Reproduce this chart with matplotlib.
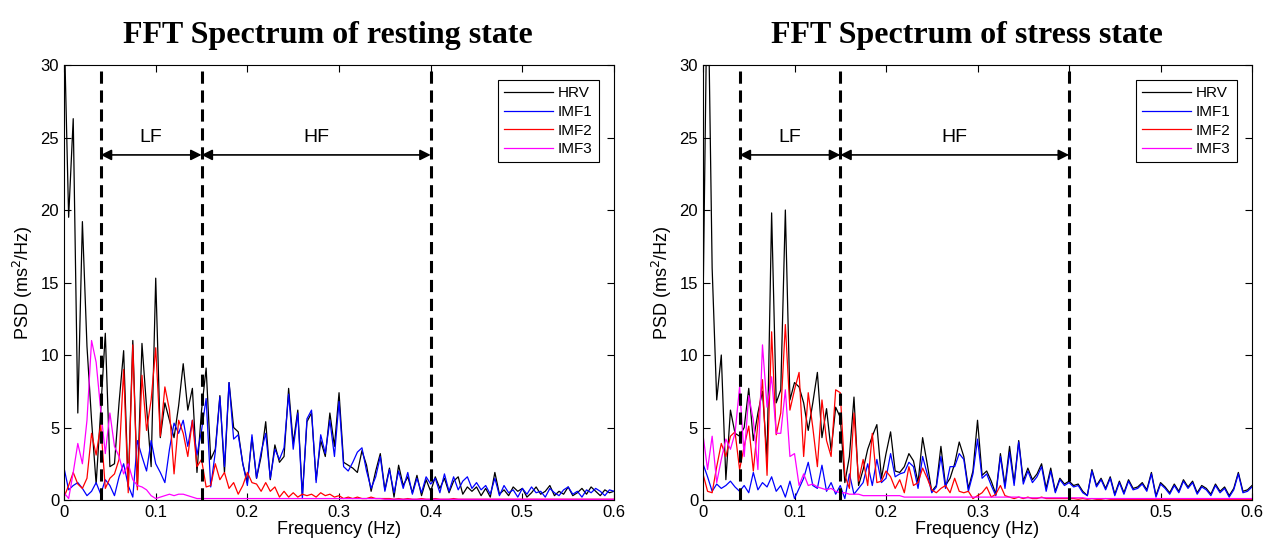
import numpy as np
import matplotlib
matplotlib.use('Agg')
import matplotlib.pyplot as plt

# frequency grid (Hz), 0.005 Hz spacing
freq = np.round(np.arange(121) * 0.005, 3)

# resting state PSD (ms^2/Hz)
rest_hrv = [33.0, 19.5, 26.3, 6.0, 19.2, 10.6, 5.5, 1.1, 6.2, 11.5,
            2.3, 2.5, 6.7, 10.3, 0.9, 11.0, 0.9, 10.8, 6.4, 2.3,
            15.3, 4.3, 6.7, 5.5, 4.3, 6.5, 9.4, 6.2, 7.7, 1.9,
            6.2, 9.1, 2.8, 3.5, 7.2, 1.9, 8.1, 5.0, 4.7, 2.5,
            1.2, 4.3, 1.5, 3.0, 5.4, 1.4, 3.8, 2.6, 3.0, 7.7,
            3.9, 6.2, 0.3, 5.4, 6.0, 1.4, 4.1, 3.0, 6.0, 3.7,
            7.4, 2.6, 2.4, 2.2, 1.9, 3.4, 2.4, 0.6, 2.0, 3.2,
            0.7, 2.2, 0.2, 2.4, 1.0, 1.6, 0.5, 1.7, 0.3, 1.4,
            0.6, 1.6, 0.8, 1.5, 0.5, 1.3, 1.6, 0.4, 0.9, 0.6,
            0.9, 0.3, 0.8, 0.2, 1.9, 0.4, 0.7, 0.3, 0.9, 0.6,
            0.8, 0.2, 0.5, 0.9, 0.4, 0.6, 1.0, 0.3, 0.6, 0.4,
            0.9, 0.3, 0.5, 0.8, 0.4, 0.9, 0.6, 0.3, 0.7, 0.5,
            0.6]
rest_imf1 = [2.2, 0.7, 1.0, 1.2, 0.8, 0.3, 0.6, 1.2, 0.4, 1.4,
             1.0, 0.3, 1.6, 2.5, 1.0, 0.2, 4.1, 3.0, 2.0, 4.1,
             2.5, 1.9, 1.2, 3.5, 5.3, 4.6, 5.5, 3.7, 5.5, 3.1,
             4.8, 7.0, 0.9, 3.3, 7.1, 2.3, 8.1, 4.2, 4.5, 2.5,
             1.0, 4.5, 1.5, 3.3, 4.6, 1.5, 3.5, 2.8, 3.6, 7.3,
             3.5, 6.0, 0.1, 5.6, 6.2, 1.2, 4.5, 3.2, 5.5, 3.0,
             6.8, 2.3, 2.0, 2.6, 3.3, 3.6, 2.0, 0.8, 1.6, 3.0,
             0.6, 2.1, 0.5, 2.0, 0.8, 1.9, 0.4, 1.5, 0.5, 1.6,
             1.1, 1.5, 0.5, 1.8, 0.6, 1.6, 0.7, 1.3, 1.6, 0.8,
             1.2, 0.7, 1.0, 0.4, 1.5, 0.3, 1.0, 0.5, 0.7, 0.2,
             0.8, 0.4, 0.9, 0.5, 0.6, 0.2, 0.8, 0.5, 0.3, 0.7,
             0.9, 0.4, 0.6, 0.2, 0.7, 0.5, 0.8, 0.6, 0.3, 0.7,
             0.6]
rest_imf2 = [0.2, 1.0, 1.9, 1.1, 0.8, 1.5, 4.6, 3.1, 5.2, 0.8,
             1.5, 1.8, 2.8, 9.0, 0.5, 10.7, 0.7, 8.6, 4.8, 6.9,
             10.5, 4.4, 7.8, 6.2, 1.8, 5.5, 4.6, 3.0, 5.5, 2.3,
             2.8, 0.9, 1.0, 2.5, 1.4, 1.9, 0.8, 1.2, 0.4, 1.0,
             1.9, 1.2, 1.1, 0.6, 1.2, 0.6, 0.9, 0.2, 0.6, 0.2,
             0.5, 0.2, 0.4, 0.3, 0.4, 0.2, 0.5, 0.3, 0.4, 0.2,
             0.3, 0.1, 0.2, 0.1, 0.2, 0.1, 0.1, 0.2, 0.1, 0.1,
             0.1, 0.1, 0.05, 0.1, 0.05, 0.1, 0.05, 0.05, 0.1, 0.05,
             0.05, 0.1, 0.05, 0.05, 0.05, 0.1, 0.05, 0.05, 0.05, 0.05,
             0.05, 0.05, 0.05, 0.05, 0.05, 0.05, 0.05, 0.05, 0.05, 0.05,
             0.05, 0.05, 0.05, 0.05, 0.05, 0.05, 0.05, 0.05, 0.05, 0.05,
             0.05, 0.05, 0.05, 0.05, 0.05, 0.05, 0.05, 0.05, 0.05, 0.05,
             0.05]
rest_imf3 = [0.5, 0.1, 1.9, 3.9, 2.5, 5.5, 11.0, 9.5, 6.2, 3.2,
             6.0, 3.7, 3.0, 1.8, 2.5, 1.4, 1.0, 0.9, 0.7, 0.3,
             0.1, 0.2, 0.3, 0.4, 0.3, 0.4, 0.4, 0.3, 0.2, 0.1,
             0.1, 0.1, 0.1, 0.1, 0.1, 0.1, 0.1, 0.1, 0.1, 0.1,
             0.1, 0.1, 0.1, 0.1, 0.1, 0.1, 0.1, 0.1, 0.1, 0.1,
             0.1, 0.1, 0.1, 0.1, 0.1, 0.1, 0.1, 0.1, 0.1, 0.1,
             0.1, 0.1, 0.1, 0.1, 0.1, 0.1, 0.1, 0.1, 0.1, 0.1,
             0.05, 0.05, 0.05, 0.05, 0.05, 0.05, 0.05, 0.05, 0.05, 0.05,
             0.05, 0.05, 0.05, 0.05, 0.05, 0.05, 0.05, 0.05, 0.05, 0.05,
             0.05, 0.05, 0.05, 0.05, 0.05, 0.05, 0.05, 0.05, 0.05, 0.05,
             0.05, 0.05, 0.05, 0.05, 0.05, 0.05, 0.05, 0.05, 0.05, 0.05,
             0.05, 0.05, 0.05, 0.05, 0.05, 0.05, 0.05, 0.05, 0.05, 0.05,
             0.05]

# stress state PSD (ms^2/Hz)
stress_hrv = [13.1, 38.0, 16.0, 6.9, 10.0, 1.4, 6.2, 4.6, 4.4, 5.0,
              7.7, 4.1, 6.0, 7.5, 2.8, 19.8, 6.7, 7.6, 20.0, 6.9,
              8.1, 7.8, 6.7, 4.8, 6.7, 8.8, 4.3, 6.3, 3.4, 6.4,
              5.7, 1.2, 3.0, 7.1, 1.0, 2.1, 3.5, 4.4, 5.2, 1.5,
              3.2, 4.7, 2.0, 1.9, 2.3, 3.2, 2.7, 1.2, 4.3, 2.5,
              0.6, 1.0, 3.7, 1.0, 1.5, 2.5, 4.0, 3.0, 0.8, 2.0,
              5.5, 1.7, 2.0, 1.3, 0.4, 3.2, 1.0, 3.7, 1.2, 4.1,
              1.3, 2.2, 1.4, 1.8, 2.5, 0.8, 2.2, 0.6, 1.5, 1.1,
              1.3, 1.0, 1.1, 0.6, 0.3, 2.1, 1.0, 1.5, 0.8, 1.6,
              0.4, 1.3, 0.5, 1.4, 0.8, 0.9, 1.2, 0.7, 1.9, 0.3,
              1.2, 0.9, 0.5, 1.1, 0.6, 1.4, 0.9, 1.3, 0.5, 1.0,
              0.8, 0.4, 1.1, 0.6, 0.9, 0.3, 0.8, 1.9, 0.6, 0.7,
              1.0]
stress_imf1 = [2.5, 1.6, 0.6, 1.1, 0.8, 1.0, 1.3, 0.9, 0.6, 1.0,
               0.5, 1.9, 0.7, 1.2, 0.9, 1.6, 0.6, 1.0, 0.2, 1.3,
               0.1, 0.8, 1.5, 2.6, 1.0, 0.8, 2.4, 0.6, 1.2, 0.4,
               1.0, 0.1, 1.8, 0.4, 0.8, 1.2, 2.5, 1.0, 2.8, 1.2,
               1.5, 3.2, 1.6, 1.8, 1.9, 2.6, 2.3, 0.8, 3.0, 1.8,
               0.5, 0.9, 3.0, 0.8, 2.3, 2.3, 3.2, 2.8, 0.6, 1.8,
               4.2, 1.5, 1.8, 1.0, 0.3, 3.0, 0.8, 3.3, 1.0, 4.0,
               1.1, 2.0, 1.2, 1.6, 2.3, 0.6, 2.0, 0.5, 1.4, 1.0,
               1.2, 0.9, 1.0, 0.5, 0.3, 2.0, 0.9, 1.4, 0.7, 1.5,
               0.3, 1.2, 0.4, 1.3, 0.7, 0.8, 1.1, 0.6, 1.8, 0.2,
               1.1, 0.8, 0.4, 1.0, 0.5, 1.3, 0.8, 1.2, 0.4, 0.9,
               0.7, 0.3, 1.0, 0.5, 0.8, 0.2, 0.7, 1.8, 0.5, 0.6,
               0.9]
stress_imf2 = [1.8, 0.6, 0.5, 2.3, 3.9, 3.0, 4.4, 4.7, 2.1, 3.7,
               5.1, 2.0, 5.3, 8.3, 1.7, 11.6, 4.5, 6.0, 12.1, 6.2,
               7.6, 8.8, 3.0, 7.4, 5.0, 2.3, 6.9, 4.1, 3.0, 7.6,
               7.4, 1.7, 0.8, 6.0, 1.3, 2.8, 1.0, 4.6, 1.2, 1.3,
               2.0, 1.6, 0.8, 1.4, 0.5, 2.3, 1.0, 1.2, 2.2, 1.5,
               0.7, 0.5, 0.8, 1.0, 0.5, 1.5, 0.6, 0.5, 0.6, 0.1,
               0.3, 0.5, 0.9, 0.2, 0.4, 1.0, 0.3, 0.2, 0.1, 0.2,
               0.1, 0.2, 0.1, 0.1, 0.2, 0.1, 0.1, 0.1, 0.1, 0.1,
               0.1, 0.1, 0.05, 0.1, 0.05, 0.1, 0.05, 0.05, 0.1, 0.05,
               0.05, 0.05, 0.05, 0.05, 0.05, 0.05, 0.05, 0.05, 0.05, 0.05,
               0.05, 0.05, 0.05, 0.05, 0.05, 0.05, 0.05, 0.05, 0.05, 0.05,
               0.05, 0.05, 0.05, 0.05, 0.05, 0.05, 0.05, 0.05, 0.05, 0.05,
               0.05]
stress_imf3 = [4.5, 2.1, 4.4, 1.2, 2.8, 4.2, 3.5, 4.6, 7.8, 3.0,
               7.2, 5.5, 2.1, 10.7, 6.4, 8.5, 4.6, 4.6, 7.6, 3.0,
               3.2, 1.0, 1.8, 1.0, 1.1, 0.9, 0.8, 0.7, 0.8, 0.6,
               0.5, 0.5, 0.4, 0.4, 0.4, 0.3, 0.3, 0.3, 0.3, 0.3,
               0.3, 0.3, 0.3, 0.3, 0.2, 0.2, 0.2, 0.2, 0.2, 0.2,
               0.2, 0.2, 0.2, 0.2, 0.2, 0.2, 0.2, 0.2, 0.2, 0.2,
               0.2, 0.2, 0.2, 0.2, 0.2, 0.2, 0.2, 0.2, 0.2, 0.2,
               0.15, 0.15, 0.15, 0.15, 0.15, 0.15, 0.15, 0.15, 0.15, 0.15,
               0.15, 0.15, 0.15, 0.15, 0.1, 0.1, 0.1, 0.1, 0.1, 0.1,
               0.1, 0.1, 0.1, 0.1, 0.1, 0.1, 0.1, 0.1, 0.1, 0.1,
               0.1, 0.1, 0.1, 0.1, 0.1, 0.1, 0.1, 0.1, 0.1, 0.1,
               0.1, 0.1, 0.1, 0.1, 0.1, 0.1, 0.1, 0.1, 0.1, 0.1,
               0.1]

titles = ['FFT Spectrum of resting state', 'FFT Spectrum of stress state']
series_names = ['HRV', 'IMF1', 'IMF2', 'IMF3']
series_colors = ['black', '#0000ff', '#ff0000', '#ff00ff']
band_edges = [0.04, 0.15, 0.4]
band_names = ['LF', 'HF']

plt.rcParams['font.family'] = ['Liberation Sans', 'DejaVu Sans']

fig = plt.figure(figsize=(12.71, 5.52), dpi=100)
ax_l = fig.add_axes([0.0504, 0.0942, 0.4327, 0.788])
ax_r = fig.add_axes([0.5531, 0.0942, 0.4320, 0.788])

panels = [(ax_l, [rest_hrv, rest_imf1, rest_imf2, rest_imf3]),
          (ax_r, [stress_hrv, stress_imf1, stress_imf2, stress_imf3])]

for k, (ax, data) in enumerate(panels):
    for name, col, vals in zip(series_names, series_colors, data):
        ax.plot(freq, vals, color=col, lw=0.9, label=name)
    for b in band_edges:
        ax.axvline(b, color='black', lw=2.2, linestyle=(0, (4, 2.2)))
    # band arrows
    for i in range(2):
        ax.annotate('', xy=(band_edges[i + 1], 23.8), xytext=(band_edges[i], 23.8),
                    arrowprops=dict(arrowstyle='<|-|>', color='black', lw=1.2,
                                    mutation_scale=16, shrinkA=0, shrinkB=0))
        ax.text((band_edges[i] + band_edges[i + 1]) / 2, 25.0, band_names[i],
                ha='center', va='center', fontsize=14)
    ax.set_xlim(0, 0.6)
    ax.set_ylim(0, 30)
    ax.set_xticks([0, 0.1, 0.2, 0.3, 0.4, 0.5, 0.6])
    ax.set_xticklabels(['0', '0.1', '0.2', '0.3', '0.4', '0.5', '0.6'])
    ax.set_yticks([0, 5, 10, 15, 20, 25, 30])
    ax.tick_params(direction='in', top=True, right=True, labelsize=12, length=5, width=0.8)
    for sp in ax.spines.values():
        sp.set_linewidth(0.8)
    ax.set_xlabel('Frequency (Hz)', fontsize=13, labelpad=1)
    ax.set_ylabel('PSD (ms$^2$/Hz)', fontsize=13, labelpad=4)
    ax.set_title(titles[k], fontsize=23, fontweight='bold', family='Liberation Serif',
                 pad=16, x=0.48)
    leg = ax.legend(loc='upper right', fontsize=11, fancybox=False, edgecolor='black',
                    framealpha=1, handlelength=3.2, borderaxespad=1.0, labelspacing=0.3,
                    borderpad=0.4, handletextpad=0.3)
    leg.get_frame().set_linewidth(0.8)

fig.savefig('out.png', dpi=100)
